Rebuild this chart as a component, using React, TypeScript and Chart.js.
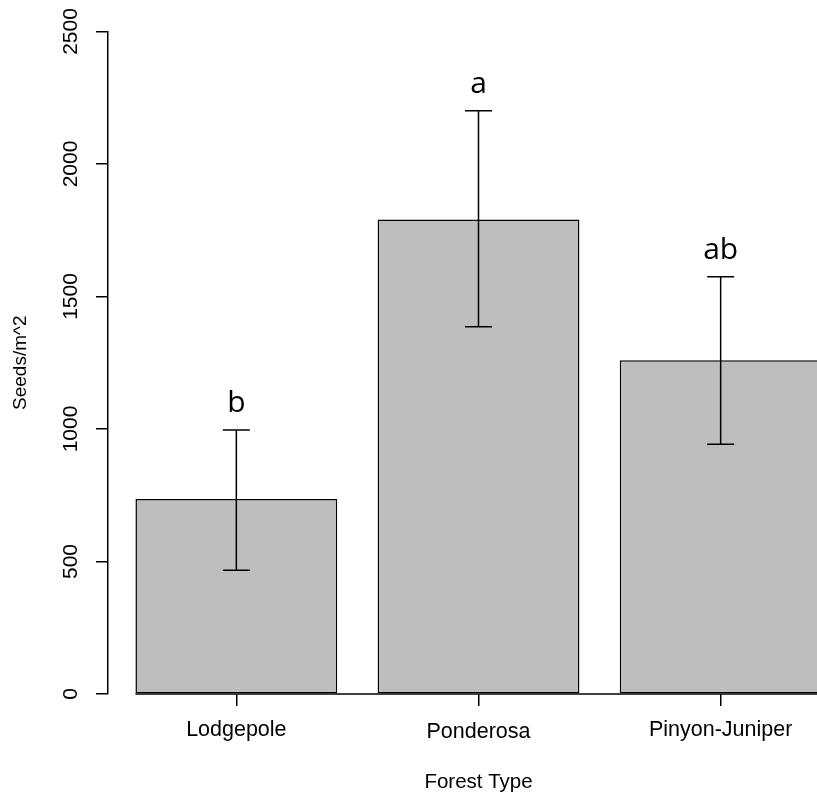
import React, { useEffect, useRef } from 'react';
import { Chart, registerables } from 'chart.js';

Chart.register(...registerables);

// ---- data ----
const categories = ['Lodgepole', 'Ponderosa', 'Pinyon-Juniper'];
const meanSeeds = [736, 1791, 1259];
const upperSeeds = [996, 2201, 1575];
const lowerSeeds = [467, 1386, 942];
const groupLetters = ['b', 'a', 'ab'];
const yTickValues = [0, 500, 1000, 1500, 2000, 2500];
const yTickLabels = ['0', '500', '1000', '1500', '2000', '2500'];
const xTitle = 'Forest Type';
const yTitle = 'Seeds/m^2';

// ---- R barplot geometry (width = 1, space = 0.2, 4% axis extension) ----
const BAR_WIDTH = 1;
const BAR_SPACE = 0.2;
const barCenters = categories.map((_, i) => BAR_SPACE + BAR_WIDTH / 2 + i * (BAR_WIDTH + BAR_SPACE));
const rawMin = BAR_SPACE;
const rawMax = categories.length * (BAR_WIDTH + BAR_SPACE);
const X_MIN = rawMin - 0.04 * (rawMax - rawMin);
const X_MAX = rawMax + 0.04 * (rawMax - rawMin);

const SANS = "'Liberation Sans', Arial, Helvetica, sans-serif";
const LETTER_FONT = "'Open Sans', 'Noto Sans', sans-serif";
const LINE_W = 1.5;

const overlayPlugin = {
  id: 'rOverlay',
  afterDatasetsDraw(chart: any) {
    const { ctx, chartArea } = chart;
    const xs = chart.scales.x;
    const ys = chart.scales.y;
    ctx.save();
    ctx.strokeStyle = '#000';
    ctx.lineWidth = LINE_W;
    // baseline at 0 from the first bar's left edge
    const y0 = ys.getPixelForValue(0);
    ctx.beginPath();
    ctx.moveTo(xs.getPixelForValue(barCenters[0] - BAR_WIDTH / 2), y0);
    ctx.lineTo(chartArea.right, y0);
    ctx.stroke();
    // error bars
    const capHalf = 13.5;
    categories.forEach((_, i) => {
      const px = xs.getPixelForValue(barCenters[i]);
      const pTop = ys.getPixelForValue(upperSeeds[i]);
      const pBot = ys.getPixelForValue(lowerSeeds[i]);
      ctx.beginPath();
      ctx.moveTo(px, pTop);
      ctx.lineTo(px, pBot);
      ctx.moveTo(px - capHalf, pTop);
      ctx.lineTo(px + capHalf, pTop);
      ctx.moveTo(px - capHalf, pBot);
      ctx.lineTo(px + capHalf, pBot);
      ctx.stroke();
      // significance letters
      ctx.fillStyle = '#000';
      ctx.font = `30px ${LETTER_FONT}`;
      ctx.textAlign = 'center';
      ctx.textBaseline = 'alphabetic';
      ctx.fillText(groupLetters[i], px, pTop - 18);
    });
    ctx.restore();
  },
  afterDraw(chart: any) {
    const { ctx } = chart;
    const xs = chart.scales.x;
    const ys = chart.scales.y;
    ctx.save();
    ctx.fillStyle = '#000';
    // y tick labels, rotated (R las = 0)
    ctx.font = `21px ${SANS}`;
    ctx.textAlign = 'center';
    ctx.textBaseline = 'alphabetic';
    yTickValues.forEach((v, i) => {
      const py = ys.getPixelForValue(v);
      ctx.save();
      ctx.translate(ys.right - 30.7, py);
      ctx.rotate(-Math.PI / 2);
      ctx.fillText(yTickLabels[i], 0, 0);
      ctx.restore();
    });
    // x tick labels, ink-box centred like R
    ctx.font = `21.5px ${SANS}`;
    const centerY = ys.getPixelForValue(0) + 36.3;
    categories.forEach((c, i) => {
      const px = xs.getPixelForValue(barCenters[i]);
      const m = ctx.measureText(c);
      const asc = m.actualBoundingBoxAscent;
      const desc = m.actualBoundingBoxDescent;
      ctx.fillText(c, px, centerY + (asc - desc) / 2);
    });
    ctx.restore();
  },
};

export default function App() {
  const ref = useRef<HTMLCanvasElement>(null);
  useEffect(() => {
    const chart = new Chart(ref.current as HTMLCanvasElement, {
      type: 'bar',
      data: {
        datasets: [
          {
            data: categories.map((_, i) => ({ x: barCenters[i], y: meanSeeds[i] })),
            backgroundColor: '#BEBEBE',
            borderColor: '#000000',
            borderWidth: LINE_W,
            borderSkipped: false,
            barPercentage: BAR_WIDTH / (BAR_WIDTH + BAR_SPACE),
            categoryPercentage: 1,
          } as any,
        ],
      },
      options: {
        responsive: false,
        maintainAspectRatio: false,
        animation: false,
        devicePixelRatio: 1,
        layout: { padding: { top: 31.5, right: 31, left: 0, bottom: 0 } },
        plugins: {
          legend: { display: false },
          tooltip: { enabled: false },
          title: { display: false },
        },
        scales: {
          x: {
            type: 'linear',
            position: 'bottom',
            offset: false,
            min: X_MIN,
            max: X_MAX,
            afterBuildTicks: (s: any) => {
              s.ticks = barCenters.map((v) => ({ value: v }));
            },
            afterFit: (s: any) => {
              s.height = 106;
            },
            ticks: { display: false },
            grid: {
              display: true,
              offset: false,
              drawOnChartArea: false,
              drawTicks: true,
              tickLength: 12,
              color: '#000',
              lineWidth: LINE_W,
            },
            border: { display: false },
            title: {
              display: true,
              text: xTitle,
              color: '#000',
              font: { family: SANS, size: 20.5 },
              padding: { top: 0, bottom: 5.8 },
            },
          },
          y: {
            type: 'linear',
            position: 'left',
            min: 0,
            max: 2500,
            afterBuildTicks: (s: any) => {
              s.ticks = yTickValues.map((v) => ({ value: v }));
            },
            afterFit: (s: any) => {
              s.width = 108;
            },
            ticks: { display: false },
            grid: {
              display: true,
              drawOnChartArea: false,
              drawTicks: true,
              tickLength: 12,
              color: '#000',
              lineWidth: LINE_W,
            },
            border: { display: true, color: '#000', width: LINE_W },
            title: {
              display: true,
              text: yTitle,
              color: '#000',
              font: { family: SANS, size: 19 },
              padding: { top: 9.4, bottom: 0 },
            },
          },
        },
      } as any,
      plugins: [overlayPlugin],
    });
    return () => chart.destroy();
  }, []);

  return (
    <div
      style={{
        position: 'absolute',
        left: 0,
        top: 0,
        width: 817,
        height: 800,
        overflow: 'hidden',
        background: '#ffffff',
      }}
    >
      <canvas ref={ref} width={880} height={800} style={{ display: 'block', width: 880, height: 800 }} />
    </div>
  );
}
